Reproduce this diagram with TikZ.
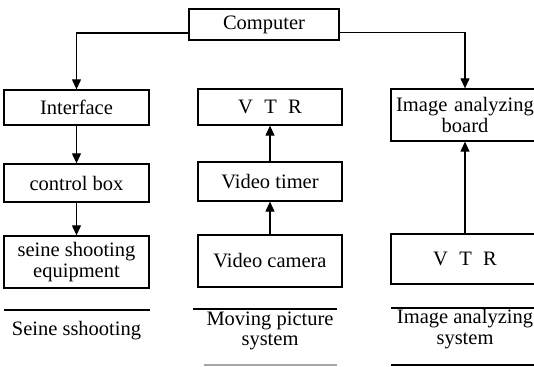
\documentclass[tikz,border=0pt]{standalone}
\usepackage{fontspec}
\setmainfont{Liberation Serif}
\usetikzlibrary{arrows.meta}
\begin{document}
\begin{tikzpicture}[x=1pt,y=-1pt,
  box/.style={draw, line width=1.3pt, inner sep=0pt, align=center,
    font=\fontsize{20.5}{21}\selectfont},
  lbl/.style={inner sep=0pt, align=center, font=\fontsize{20.5}{20.5}\selectfont},
  conn/.style={line width=1.1pt, -{Triangle[length=10pt,width=9pt]}},
  sep/.style={line width=1.3pt}]
\useasboundingbox (0,0) rectangle (534,366);
\clip (0,0) rectangle (534,366);
\node[box, minimum width=150pt, minimum height=31pt] (comp) at (264,24.5) {Computer};
\node[box, minimum width=145pt, minimum height=35pt] (intf) at (76.5,107.5) {Interface};
\node[box, minimum width=145pt, minimum height=38pt] (ctrl) at (76.5,183) {control box};
\node[box, minimum width=145pt, minimum height=52pt] (seine) at (76.5,262) {seine shooting\\equipment};
\node[box, minimum width=144pt, minimum height=36pt] (vtrm) at (270,107) {V\hspace{0.55em}T\hspace{0.55em}R};
\node[box, minimum width=144pt, minimum height=39pt] (timer) at (270,181.5) {Video timer};
\node[box, minimum width=144pt, minimum height=52pt] (cam) at (270,261) {Video camera};
\node[box, minimum width=148pt, minimum height=52pt, text width=148pt] (board) at (465,115) {Image analyzing\\board};
\node[box, minimum width=148pt, minimum height=50pt] (vtrr) at (465,259) {V\hspace{0.55em}T\hspace{0.55em}R};
\draw[conn] ([yshift=-8.5pt]comp.west) -| (intf.north);
\draw[conn] ([yshift=-8pt]comp.east) -| (board.north);
\draw[conn] (intf.south) -- (ctrl.north);
\draw[conn] (ctrl.south) -- (seine.north);
\draw[conn] (cam.north) -- (timer.south);
\draw[conn] (timer.north) -- (vtrm.south);
\draw[conn] (vtrr.north) -- (board.south);
\draw[sep] (4,310) -- (150,310);
\draw[sep] (193,309) -- (337,309);
\draw[sep, black!35] (204,365) -- (337,365);
\draw[sep] (391,308) -- (540,308);
\draw[sep] (391,365) -- (540,365);
\node[lbl] (l1) at (76.5,331) {Seine sshooting};
\node[lbl] (l2) at (270,331) {Moving picture\\system};
\node[lbl] (l3) at (465,329) {Image analyzing\\system};
\end{tikzpicture}
\end{document}
